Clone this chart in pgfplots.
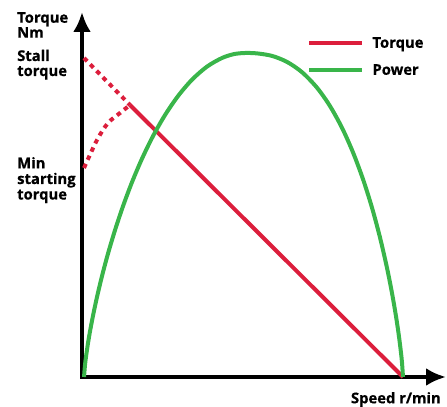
\documentclass[border=0pt]{standalone}
\usepackage{pgfplots}
\pgfplotsset{compat=1.18}
\usepackage{fontspec}
\setmainfont{Open Sans}
\newfontfamily\lblfont{Open Sans Bold}[FakeBold=0.6]
\usetikzlibrary{arrows.meta}
\definecolor{tred}{RGB}{220,30,60}
\definecolor{pgreen}{RGB}{57,181,74}
\newcommand{\lf}{\lblfont\fontsize{14.8bp}{15.5bp}\selectfont}
\begin{document}
\begin{tikzpicture}
\path[use as bounding box] (-82bp,-30bp) rectangle (365bp,377bp);
\begin{axis}[
  scale only axis,
  width=364bp, height=365bp,
  xmin=0, xmax=364, ymin=0, ymax=365,
  axis lines=left,
  axis line style={line width=4bp, line cap=rect},
  every outer x axis line/.append style={-{Latex[length=20bp,width=18bp]}},
  every outer y axis line/.append style={-{Latex[length=20bp,width=18bp]}},
  xtick=\empty, ytick=\empty,
  clip=false,
  legend style={at={(axis cs:225,342)}, anchor=north west, draw=none, fill=none,
    inner sep=0pt, row sep=11bp, font=\lf, cells={anchor=west},
    /tikz/every odd column/.append style={column sep=6bp}},
  legend image code/.code={\draw[#1, line width=4.3bp] (0bp,0bp) -- (53bp,0bp);},
  legend cell align=left,
]
\addplot[tred, line width=4bp, line cap=butt] coordinates {(48,272) (321,0)};
\addlegendentry{Torque}
\addplot[pgreen, line width=4bp, smooth] coordinates {
(2,0) (3,12.0) (4,20.2) (6,33.8) (8,45.6) (11,61.3) (15,80.0) (20,100.9)
(26,123.4) (33,146.8) (41,170.8) (50,194.8) (60,218.3) (71,240.9) (83,261.9)
(96,280.9) (110,297.3) (125,310.4) (140,319.0) (152,322.9) (163,324)
(175,323.6) (190,321.1) (205,315.1) (220,304.8) (235,289.3) (248,270.9)
(260,249.2) (271,224.6) (281,197.8) (290,169.3) (298,139.5) (305,109.1)
(310,83.9) (314,60.7) (317,40.3) (319,24.1) (320,14.4) (321,0)};
\addlegendentry{Power}
\addplot[tred, line width=4bp, dash pattern=on 4.5bp off 4.5bp, forget plot] coordinates {(2,319) (48,272)};
\addplot[tred, line width=4bp, dash pattern=on 4.5bp off 4.5bp, smooth, forget plot] coordinates {(2,209) (15,237) (26,254) (38,264) (48,272)};
\end{axis}
\node[anchor=base west, font=\lf, inner sep=0pt] at (-65bp,354.3bp) {Torque};
\node[anchor=base west, font=\lf, inner sep=0pt] at (-65bp,339.3bp) {Nm};
\node[anchor=base west, font=\lf, inner sep=0pt] at (-65bp,316bp) {Stall};
\node[anchor=base west, font=\lf, inner sep=0pt] at (-65bp,301bp) {torque};
\node[anchor=base west, font=\lf, inner sep=0pt] at (-65bp,208.7bp) {Min};
\node[anchor=base west, font=\lf, inner sep=0pt] at (-65bp,193bp) {starting};
\node[anchor=base west, font=\lf, inner sep=0pt] at (-65bp,177.5bp) {torque};
\node[anchor=base east, font=\lf, inner sep=0pt] at (359bp,-26.3bp) {Speed r/min};
\end{tikzpicture}
\end{document}
